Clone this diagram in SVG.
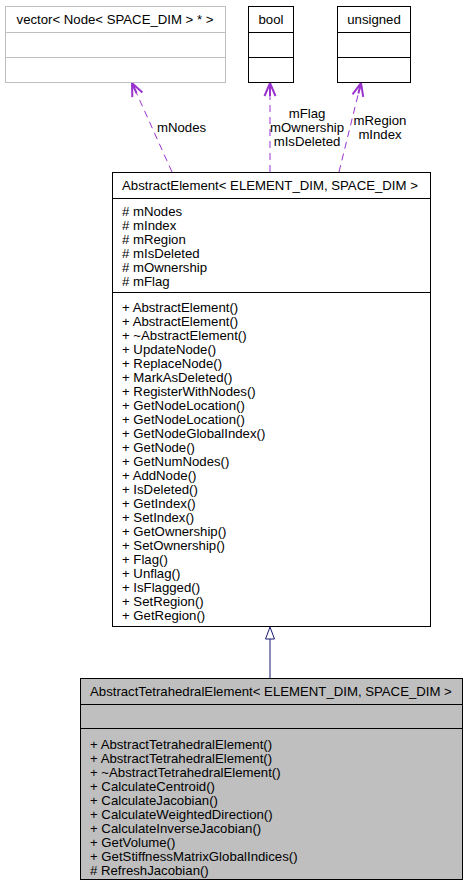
<svg xmlns="http://www.w3.org/2000/svg" width="467" height="885" viewBox="0 0 467 885">
<style>
text{font-family:"Liberation Sans",Arial,sans-serif;font-size:13.2px;fill:#000}
.c{text-anchor:middle}
.box{fill:#fff;stroke:#000;stroke-width:1}
.grey{fill:#fff;stroke:#bfbfbf;stroke-width:1}
.gbox{fill:#bfbfbf;stroke:#000;stroke-width:1}
.dep{fill:none;stroke:#9a32cd;stroke-width:1;stroke-dasharray:7,5}
.head{fill:none;stroke:#9a32cd;stroke-width:2}
.inh{fill:none;stroke:#191970;stroke-width:1}
.tri{fill:#fff;stroke:#191970;stroke-width:1}
</style>
<g id="connectors">
<path class="dep" d="M172,172 L132,83"/>
<path class="head" d="M142.35,92.6 L132,83 L132.31,97.12 M132,83 L136.5,93"/>
<path class="dep" d="M270,172 L270,83"/>
<path class="head" d="M264.5,96 L270,83 L275.5,96 M270,83 L270,96"/>
<path class="dep" d="M339,172 L361,83"/>
<path class="head" d="M363.22,96.94 L361,83 L352.54,94.3 M361,83 L358.4,93.5"/>
<path class="inh" d="M270,678 L270,639"/>
<path class="tri" d="M270,627 L265.5,639 L274.5,639 Z"/>
<text x="157" y="132">mNodes</text>
<text class="c" x="307" y="118">mFlag</text>
<text class="c" x="307" y="132">mOwnership</text>
<text class="c" x="307" y="146">mIsDeleted</text>
<text class="c" x="380" y="125">mRegion</text>
<text class="c" x="380" y="139">mIndex</text>
</g>
<g id="vector">
<rect class="grey" x="5.5" y="6.5" width="220" height="76"/>
<line x1="5.5" y1="32.5" x2="225.5" y2="32.5" stroke="#bfbfbf"/>
<line x1="5.5" y1="57.5" x2="225.5" y2="57.5" stroke="#bfbfbf"/>
<text class="c" x="115" y="24">vector&lt; Node&lt; SPACE_DIM &gt; * &gt;</text>
</g>
<g id="bool">
<rect class="box" x="248.5" y="6.5" width="45" height="76"/>
<line x1="248.5" y1="32.5" x2="293.5" y2="32.5" stroke="#000"/>
<line x1="248.5" y1="57.5" x2="293.5" y2="57.5" stroke="#000"/>
<text class="c" x="271" y="24">bool</text>
</g>
<g id="unsigned">
<rect class="box" x="337.5" y="6.5" width="73" height="76"/>
<line x1="337.5" y1="32.5" x2="410.5" y2="32.5" stroke="#000"/>
<line x1="337.5" y1="57.5" x2="410.5" y2="57.5" stroke="#000"/>
<text class="c" x="374" y="24">unsigned</text>
</g>
<g id="AbstractElement">
<rect class="box" x="112.5" y="172.5" width="318" height="454"/>
<line x1="112.5" y1="198.5" x2="430.5" y2="198.5" stroke="#000"/>
<line x1="112.5" y1="292.5" x2="430.5" y2="292.5" stroke="#000"/>
<text x="122" y="190">AbstractElement&lt; ELEMENT_DIM, SPACE_DIM &gt;</text>
<text x="122" y="216">
<tspan x="122" dy="0"># mNodes</tspan>
<tspan x="122" dy="14"># mIndex</tspan>
<tspan x="122" dy="14"># mRegion</tspan>
<tspan x="122" dy="14"># mIsDeleted</tspan>
<tspan x="122" dy="14"># mOwnership</tspan>
<tspan x="122" dy="14"># mFlag</tspan>
</text>
<text x="122" y="312">
<tspan x="122" dy="0">+ AbstractElement()</tspan>
<tspan x="122" dy="14">+ AbstractElement()</tspan>
<tspan x="122" dy="14">+ ~AbstractElement()</tspan>
<tspan x="122" dy="14">+ UpdateNode()</tspan>
<tspan x="122" dy="14">+ ReplaceNode()</tspan>
<tspan x="122" dy="14">+ MarkAsDeleted()</tspan>
<tspan x="122" dy="14">+ RegisterWithNodes()</tspan>
<tspan x="122" dy="14">+ GetNodeLocation()</tspan>
<tspan x="122" dy="14">+ GetNodeLocation()</tspan>
<tspan x="122" dy="14">+ GetNodeGlobalIndex()</tspan>
<tspan x="122" dy="14">+ GetNode()</tspan>
<tspan x="122" dy="14">+ GetNumNodes()</tspan>
<tspan x="122" dy="14">+ AddNode()</tspan>
<tspan x="122" dy="14">+ IsDeleted()</tspan>
<tspan x="122" dy="14">+ GetIndex()</tspan>
<tspan x="122" dy="14">+ SetIndex()</tspan>
<tspan x="122" dy="14">+ GetOwnership()</tspan>
<tspan x="122" dy="14">+ SetOwnership()</tspan>
<tspan x="122" dy="14">+ Flag()</tspan>
<tspan x="122" dy="14">+ Unflag()</tspan>
<tspan x="122" dy="14">+ IsFlagged()</tspan>
<tspan x="122" dy="14">+ SetRegion()</tspan>
<tspan x="122" dy="14">+ GetRegion()</tspan>
</text>
</g>
<g id="AbstractTetrahedralElement">
<rect class="gbox" x="80.5" y="678.5" width="382" height="201"/>
<line x1="80.5" y1="704.5" x2="462.5" y2="704.5" stroke="#000"/>
<line x1="80.5" y1="728.5" x2="462.5" y2="728.5" stroke="#000"/>
<text x="90" y="695.5">AbstractTetrahedralElement&lt; ELEMENT_DIM, SPACE_DIM &gt;</text>
<text x="90" y="749">
<tspan x="90" dy="0">+ AbstractTetrahedralElement()</tspan>
<tspan x="90" dy="14">+ AbstractTetrahedralElement()</tspan>
<tspan x="90" dy="14">+ ~AbstractTetrahedralElement()</tspan>
<tspan x="90" dy="14">+ CalculateCentroid()</tspan>
<tspan x="90" dy="14">+ CalculateJacobian()</tspan>
<tspan x="90" dy="14">+ CalculateWeightedDirection()</tspan>
<tspan x="90" dy="14">+ CalculateInverseJacobian()</tspan>
<tspan x="90" dy="14">+ GetVolume()</tspan>
<tspan x="90" dy="14">+ GetStiffnessMatrixGlobalIndices()</tspan>
<tspan x="90" dy="14"># RefreshJacobian()</tspan>
</text>
</g>
</svg>
